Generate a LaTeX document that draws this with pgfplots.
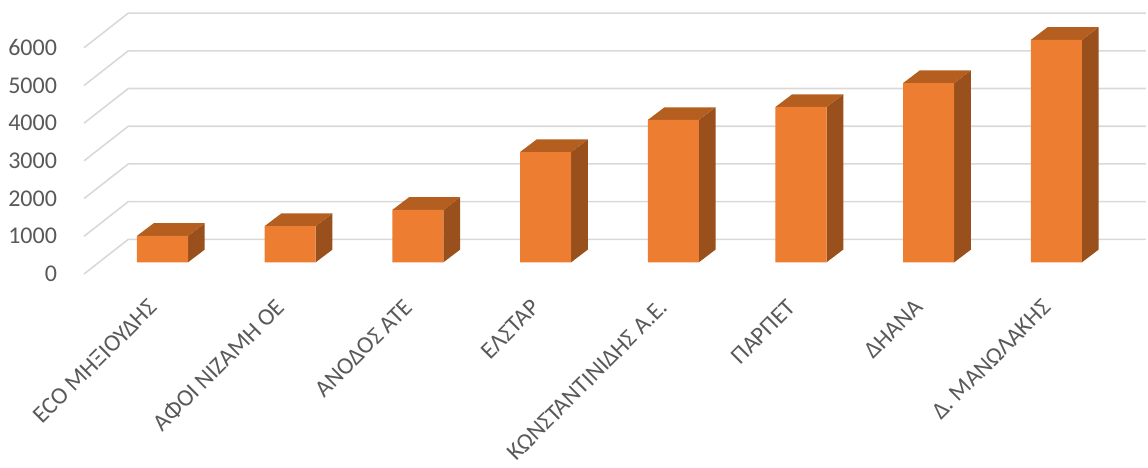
\documentclass[border=0pt]{standalone}
\usepackage{pgfplots}
\usepackage{pgfplotstable}
\usepackage{fontspec}
\setmainfont{Carlito}
\pgfplotsset{compat=1.18}

\definecolor{barfront}{HTML}{ED7D31}
\definecolor{bartop}{HTML}{B45F20}
\definecolor{barside}{HTML}{99501C}
\definecolor{gridc}{HTML}{D9D9D9}
\definecolor{labc}{HTML}{595959}

% values
\pgfplotstableread{
idx val
0 700
1 960
2 1390
3 2925
4 3775
5 4120
6 4755
7 5900
}\datatable

\begin{document}
\begin{tikzpicture}
\begin{axis}[
    scale only axis,
    width=574pt, height=234pt,
    xmin=-1.2725, xmax=7.7173,
    ymin=-5456, ymax=6958,
    enlargelimits=false,
    hide axis,
    clip=false,
]
\path (rel axis cs:0,0) rectangle (rel axis cs:1,1);

% grid lines: slanted floor part, then back wall
\addplot[gridc, line width=0.8pt] coordinates {(-0.6147,-310) (-0.2678,610) (7.701,610)};
\addplot[gridc, line width=0.8pt] coordinates {(-0.6147,690) (-0.2678,1610) (7.701,1610)};
\addplot[gridc, line width=0.8pt] coordinates {(-0.6147,1690) (-0.2678,2610) (7.701,2610)};
\addplot[gridc, line width=0.8pt] coordinates {(-0.6147,2690) (-0.2678,3610) (7.701,3610)};
\addplot[gridc, line width=0.8pt] coordinates {(-0.6147,3690) (-0.2678,4610) (7.701,4610)};
\addplot[gridc, line width=0.8pt] coordinates {(-0.6147,4690) (-0.2678,5610) (7.701,5610)};
\addplot[gridc, line width=0.8pt] coordinates {(-0.6147,5690) (-0.2678,6610) (7.701,6610)};

% top and side faces of the boxes
\pgfplotsinvokeforeach{0,...,7}{
  \pgfplotstablegetelem{#1}{val}\of\datatable
  \pgfmathsetmacro\xl{#1-0.2}
  \pgfmathsetmacro\xr{#1+0.2}
  \pgfmathsetmacro\xlb{#1-0.2+0.1308}
  \pgfmathsetmacro\xrb{#1+0.2+0.1308}
  \pgfmathsetmacro\vt{\pgfplotsretval+337}
  \edef\faces{%
    \noexpand\addplot[fill=barside, draw=none] coordinates {(\xr,0) (\xr,\pgfplotsretval) (\xrb,\vt) (\xrb,337)};
    \noexpand\addplot[fill=bartop, draw=none] coordinates {(\xl,\pgfplotsretval) (\xr,\pgfplotsretval) (\xrb,\vt) (\xlb,\vt)};
  }%
  \faces
}

% front faces
\addplot[ybar, bar width=0.4, fill=barfront, draw=none] table[x=idx, y=val] {\datatable};

% value labels
\begin{scope}[every node/.style={anchor=east, text=labc, font=\fontsize{12}{14}\selectfont}]
\node at (axis cs:-0.771,-310) {0};
\node at (axis cs:-0.771,690) {1000};
\node at (axis cs:-0.771,1690) {2000};
\node at (axis cs:-0.771,2690) {3000};
\node at (axis cs:-0.771,3690) {4000};
\node at (axis cs:-0.771,4690) {5000};
\node at (axis cs:-0.771,5690) {6000};
\end{scope}

% category labels
\begin{scope}[every node/.style={anchor=east, rotate=45, text=labc, inner sep=1pt, font=\fontsize{12}{14}\selectfont}]
\node at (axis cs:-0.0626,-1053) {ECO ΜΗΞΙΟΥΔΗΣ};
\node at (axis cs:0.9374,-1053) {ΑΦΟΙ ΝΙΖΑΜΗ ΟΕ};
\node at (axis cs:1.9374,-1053) {ΑΝΟΔΟΣ ΑΤΕ};
\node at (axis cs:2.9374,-1053) {ΕΛΣΤΑΡ};
\node at (axis cs:3.9374,-1053) {ΚΩΝΣΤΑΝΤΙΝΙΔΗΣ Α.Ε.};
\node at (axis cs:4.9374,-1053) {ΠΑΡΠΕΤ};
\node at (axis cs:5.9374,-1053) {ΔΗΑΝΑ};
\node at (axis cs:6.9374,-1053) {Δ. ΜΑΝΩΛΑΚΗΣ};
\end{scope}
\end{axis}
\end{tikzpicture}
\end{document}
